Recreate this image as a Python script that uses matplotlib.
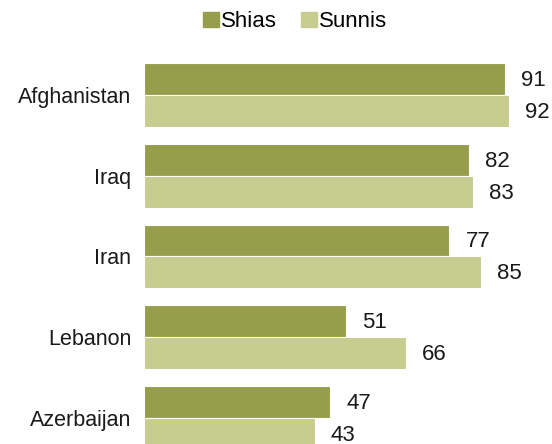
import matplotlib.pyplot as plt
import matplotlib.patches as mpatches
import numpy as np

plt.rcParams['font.family'] = ['Liberation Sans', 'DejaVu Sans']

# Data
countries = ['Afghanistan', 'Iraq', 'Iran', 'Lebanon', 'Azerbaijan']
shias = [91, 82, 77, 51, 47]
sunnis = [92, 83, 85, 66, 43]

shia_color = '#969D4B'
sunni_color = '#C7CC8F'
text_color = '#1A1A1A'

fig = plt.figure(figsize=(5.52, 4.44), dpi=100, facecolor='white')
ax = fig.add_axes([144 / 552, 0, 408 / 552, 1])

y = np.arange(len(countries))
h = 0.396
ax.barh(y - h / 2, shias, height=h, color=shia_color, edgecolor='white', linewidth=0.8)
ax.barh(y + h / 2, sunnis, height=h, color=sunni_color, edgecolor='white', linewidth=0.8)

for i, (a, b) in enumerate(zip(shias, sunnis)):
    ax.annotate(str(a), (a, i - h / 2), xytext=(11.5, -1), textcoords='offset points',
                va='center', ha='left', fontsize=16, color=text_color)
    ax.annotate(str(b), (b, i + h / 2), xytext=(11.5, -1), textcoords='offset points',
                va='center', ha='left', fontsize=16, color=text_color)

ax.set_xlim(0, 102.85)
ax.set_ylim(4.322, -1.176)
ax.set_yticks(y)
ax.set_yticklabels(countries, fontsize=15.5, color=text_color)
ax.tick_params(axis='y', length=0, pad=9)
ax.set_xticks([])
for s in ax.spines.values():
    s.set_visible(False)

handles = [mpatches.Patch(color=shia_color, label='Shias'),
           mpatches.Patch(color=sunni_color, label='Sunnis')]
fig.legend(handles=handles, loc='upper center', bbox_to_anchor=(0.535, 1.02), ncol=2,
           frameon=False, fontsize=16, handlelength=0.7, handleheight=0.7,
           handletextpad=0.1, columnspacing=1.1)

plt.savefig('out.png', dpi=100, facecolor='white')
